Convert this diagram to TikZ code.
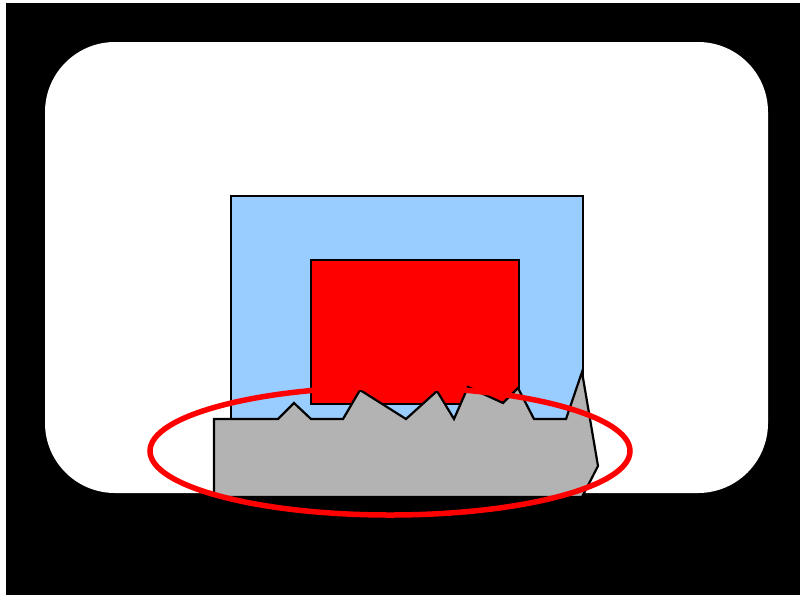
\documentclass[tikz,border=0pt]{standalone}
\usetikzlibrary{shapes.geometric}
\begin{document}
\begin{tikzpicture}[x=1pt,y=-1pt,
  shapeline/.style={draw=black,line width=2.2pt,line join=miter},
  ringstyle/.style={draw=red,line width=5.5pt}]
\useasboundingbox (0,0) rectangle (800,595);
\fill[white] (0,0) rectangle (800,595);
\fill[black] (6,3) rectangle (800,595);
\fill[white,rounded corners=70pt] (45,42) rectangle (768,493);
\node[shapeline,fill={rgb,255:red,153;green,204;blue,255},rectangle,inner sep=0pt,minimum width=352pt,minimum height=230pt,anchor=north west] (outerbox) at (230,195) {};
\node[shapeline,fill=red,rectangle,inner sep=0pt,minimum width=208pt,minimum height=144pt,anchor=north west] (innerbox) at (310,259) {};
\draw[shapeline,fill={rgb,255:red,179;green,179;blue,179}]
  (214,497) -- (214,419) -- (278,419) -- (294,403) -- (311,419) -- (343,419)
  -- (360,390) -- (406,419) -- (437,391) -- (454,419) -- (468,387)
  -- (503,403) -- (518,388) -- (534,419) -- (566,419) -- (582,372)
  -- (598,466) -- (582,497) -- cycle;
\node[ringstyle,ellipse,inner sep=0pt,minimum width=480pt,minimum height=128pt] (ring) at (390,451) {};
\end{tikzpicture}
\end{document}
